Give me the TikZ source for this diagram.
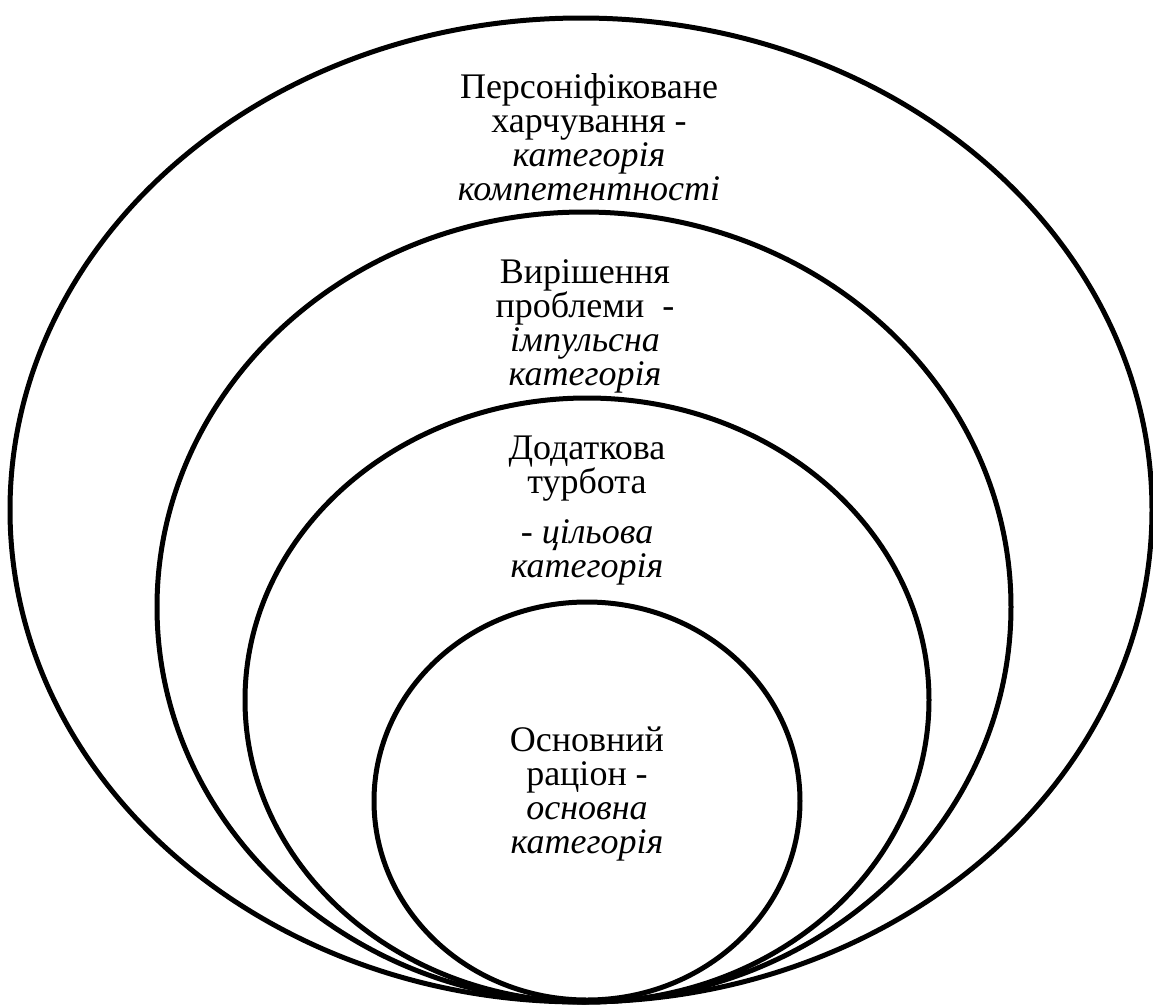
\documentclass[tikz,border=0pt]{standalone}
\usepackage{fontspec}
\setmainfont{Liberation Serif}

\tikzset{
    ring/.style={line width=2.5pt},
    label/.style={align=center, inner sep=0pt, font=\fontsize{18}{17}\selectfont}
}

\begin{document}
\begin{tikzpicture}[x=0.5pt, y=-0.5pt]
    \useasboundingbox (0,0) rectangle (1153,1008);

    % nested rings, all touching at the bottom
    \draw[ring] (581,510) ellipse [x radius=571, y radius=492];
    \draw[ring] (584,607) ellipse [x radius=427, y radius=395];
    \draw[ring] (587,700) ellipse [x radius=342, y radius=302];
    \draw[ring] (587,801) ellipse [x radius=213, y radius=199];

    % outer ring text (base = last line)
    \node[label, anchor=base] (personal) at (589,200)
        {Персоніфіковане\\ харчування -\\ \textit{категорія}\\ \textit{компетентності}};

    % second ring text
    \node[label, anchor=base] (problem) at (585,385)
        {Вирішення\\ проблеми~ -\\ \textit{імпульсна}\\ \textit{категорія}};

    % third ring text
    \node[label, anchor=base] (care) at (587,577)
        {Додаткова\\ турбота\\[8pt] - \textit{цільова}\\ \textit{категорія}};

    % inner ring text
    \node[label, anchor=base] (basic) at (587,853)
        {Основний\\ раціон -\\ \textit{основна}\\ \textit{категорія}};
\end{tikzpicture}
\end{document}
